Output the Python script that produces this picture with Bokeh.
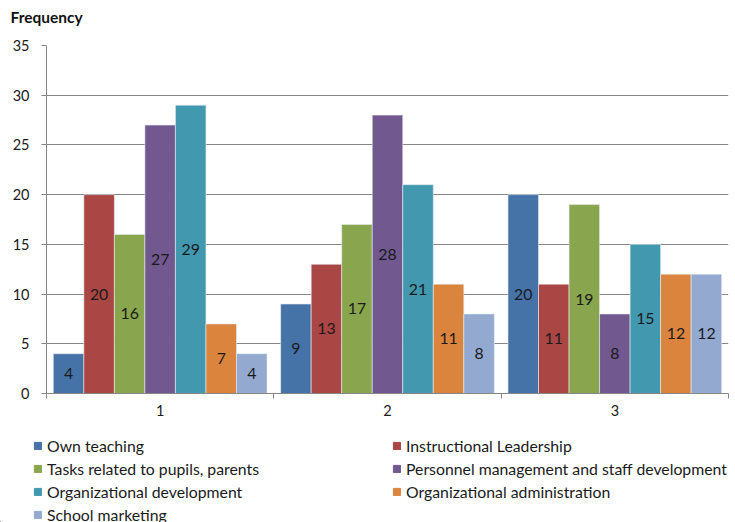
from bokeh.plotting import figure
from bokeh.models import Range1d, FixedTicker, Legend, LegendItem, ColumnDataSource, Label
from bokeh.layouts import column
from bokeh.embed import file_html
from bokeh.resources import INLINE

categories = ["1", "2", "3"]
series_names = [
    "Own teaching",
    "Instructional Leadership",
    "Tasks related to pupils, parents",
    "Personnel management and staff development",
    "Organizational development",
    "Organizational administration",
    "School marketing",
]
own_teaching = [4, 9, 20]
instructional_leadership = [20, 13, 11]
tasks_pupils_parents = [16, 17, 19]
personnel_management = [27, 28, 8]
organizational_development = [29, 21, 15]
organizational_administration = [7, 11, 12]
school_marketing = [4, 8, 12]
series_values = [own_teaching, instructional_leadership, tasks_pupils_parents,
                 personnel_management, organizational_development,
                 organizational_administration, school_marketing]
colors = ["#4572A7", "#AA4643", "#89A54E", "#71588F", "#4198AF", "#DB843D", "#93A9CF"]
y_ticks = [0, 5, 10, 15, 20, 25, 30, 35]

FONT = "Lato"
W = 735
HT, HP, HL = 37, 383, 102   # title strip, chart, legend strip


def strip(height):
    f = figure(width=W, height=height, output_backend="svg", toolbar_location=None,
               x_range=Range1d(0, W), y_range=Range1d(0, height),
               x_axis_type=None, y_axis_type=None,
               min_border_left=0, min_border_right=0, min_border_top=0, min_border_bottom=0)
    f.frame_align = False
    f.outline_line_color = None
    f.xgrid.grid_line_color = None
    f.ygrid.grid_line_color = None
    f.border_fill_color = "white"
    f.background_fill_color = "white"
    return f


# ---- title strip
t = strip(HT)
t.add_layout(Label(x=10, y=HT - 16, text="Frequency", text_font=FONT, text_font_size="15.5px",
                   text_font_style="bold", text_color="#111111", text_baseline="middle"))

# ---- chart
p = figure(width=W, height=HP, output_backend="svg", toolbar_location=None,
           x_range=Range1d(0, len(categories)), y_range=Range1d(0, 35),
           min_border_left=46, min_border_right=7, min_border_top=8, min_border_bottom=27)
p.frame_align = False
p.outline_line_color = None
p.background_fill_color = "white"
p.border_fill_color = "white"

n = len(series_names)
group_w = 0.94
bar_w = group_w / n
for i, (name, vals, col) in enumerate(zip(series_names, series_values, colors)):
    xs = [j + (1 - group_w) / 2 + bar_w * (i + 0.5) for j in range(len(categories))]
    src = ColumnDataSource(dict(x=xs, top=vals, mid=[v / 2 for v in vals],
                                lab=[str(v) for v in vals]))
    p.vbar(x="x", top="top", bottom=0, width=bar_w, source=src,
           fill_color=col, line_color="#E8ECF2", line_width=0.6)
    p.text(x="x", y="mid", text="lab", source=src, text_align="center",
           text_baseline="middle", text_font_size="15.8px", text_color="#1a1a1a",
           text_font={"value": FONT})

p.xaxis.ticker = FixedTicker(ticks=[0.5, 1.5, 2.5], minor_ticks=[0, 1, 2, 3])
p.xaxis.major_label_overrides = {0.5: "1", 1.5: "2", 2.5: "3"}
p.xaxis.major_tick_out = 0
p.xaxis.major_tick_in = 0
p.xaxis.minor_tick_out = 5
p.xaxis.minor_tick_in = 0
p.xaxis.minor_tick_line_color = "#868686"
p.xaxis.axis_line_color = "#868686"
p.xaxis.major_label_text_font_size = "14.5px"
p.xaxis.major_label_text_font = FONT
p.xaxis.major_label_text_color = "#1a1a1a"
p.xaxis.major_label_standoff = 6

p.yaxis.ticker = FixedTicker(ticks=y_ticks, minor_ticks=[])
p.yaxis.major_tick_out = 5
p.yaxis.major_tick_in = 0
p.yaxis.major_tick_line_color = "#868686"
p.yaxis.axis_line_color = "#868686"
p.yaxis.minor_tick_line_color = None
p.yaxis.major_label_text_font_size = "14.5px"
p.yaxis.major_label_text_font = FONT
p.yaxis.major_label_text_color = "#1a1a1a"
p.yaxis.major_label_standoff = 12

p.xgrid.grid_line_color = None
p.ygrid.ticker = FixedTicker(ticks=y_ticks)
p.ygrid.grid_line_color = "#868686"
p.ygrid.grid_line_width = 1

# ---- legend strip (two columns, read row by row)
q = strip(HL)
swatches = [q.vbar(x=[-100], top=[1], width=1, fill_color=c, line_color=c) for c in colors]


def make_legend(idx, x, y):
    items = [LegendItem(label=series_names[k], renderers=[swatches[k]]) for k in idx]
    lg = Legend(items=items, location=(x, y), orientation="vertical",
                label_text_font=FONT, label_text_font_size="15.8px", label_text_color="#1a1a1a",
                glyph_width=9, glyph_height=9, label_height=20, spacing=3,
                label_standoff=5, padding=0, margin=0, border_line_color=None,
                background_fill_alpha=0)
    q.add_layout(lg)


make_legend([0, 2, 4, 6], 33, -2)
make_legend([1, 3, 5], 392, 21)

open("out.html", "w").write(file_html(column(t, p, q, spacing=0), INLINE))
